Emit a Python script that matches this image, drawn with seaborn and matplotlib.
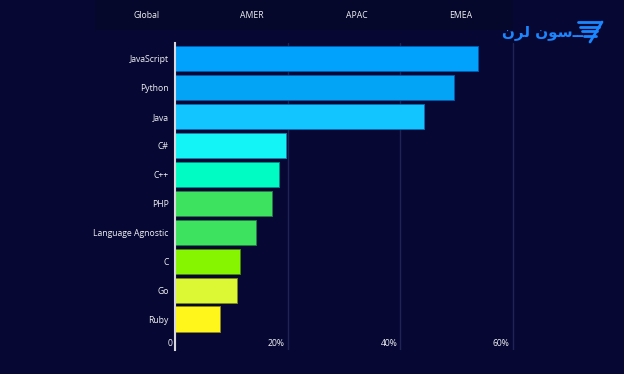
import matplotlib
matplotlib.use("Agg")
import matplotlib.pyplot as plt
import matplotlib.colors as mcolors
from matplotlib.lines import Line2D
from matplotlib.patches import Rectangle
import seaborn as sns
import pandas as pd

languages = ["JavaScript", "Python", "Java", "C#", "C++", "PHP",
             "Language Agnostic", "C", "Go", "Ruby"]
shares = [53.8, 49.6, 44.2, 19.8, 18.5, 17.2, 14.4, 11.6, 11.1, 8.0]
bar_colors = ["#00a2fb", "#03a3f6", "#12c5ff", "#12f4f6", "#00fcc2",
              "#3de35e", "#3de35e", "#86f500", "#dcf834", "#fff61c"]
x_ticks = [0, 20, 40, 60]
x_tick_labels = ["0", "20%", "40%", "60%"]
tabs = ["Global", "AMER", "APAC", "EMEA"]

BG = "#060833"
FONT = ["Open Sans", "DejaVu Sans"]

sns.set_theme(style="dark")
plt.rcParams["font.family"] = FONT

df = pd.DataFrame({"language": languages, "share": shares})

fig = plt.figure(figsize=(6.24, 3.74), dpi=100, facecolor=BG)
ax = fig.add_axes([175 / 624, 1 - 350 / 374, (524 - 175) / 624, (350 - 43) / 374])
ax.set_facecolor(BG)

sns.barplot(data=df, x="share", y="language", hue="language",
            palette=bar_colors, legend=False, width=0.87, ax=ax,
            saturation=1, zorder=3)

for patch, c in zip(ax.patches, bar_colors):
    r, g, b = mcolors.to_rgb(c)
    patch.set_edgecolor((r * 0.55, g * 0.55, b * 0.7))
    patch.set_linewidth(0.7)

ax.set_xlim(0, 62)
ax.set_ylim(10.07, -0.55)
ax.set_xlabel("")
ax.set_ylabel("")

for s in ["top", "right", "bottom"]:
    ax.spines[s].set_visible(False)
ax.spines["left"].set_color("#d8d8de")
ax.spines["left"].set_linewidth(1.5)
ax.spines["left"].set_zorder(5)

ax.set_xticks(x_ticks)
ax.set_xticklabels([])
ax.tick_params(axis="x", length=0)
ax.grid(axis="x", color="#1e2555", linewidth=1.0, zorder=0)
ax.grid(axis="y", visible=False)

ax.tick_params(axis="y", length=0, pad=4.5, labelsize=6.2, labelcolor="#f2f2f6")

for t, lab in zip(x_ticks, x_tick_labels):
    ax.annotate(lab, xy=(t, 0), xycoords=ax.get_xaxis_transform(),
                xytext=(-3, 6), textcoords="offset pixels",
                ha="right", va="center", fontsize=6.2, color="#f2f2f6")

# top tab band
fig.patches.append(Rectangle((95 / 624, 1 - 30 / 374), (513 - 95) / 624, 30 / 374,
                             transform=fig.transFigure, facecolor="#05072b",
                             edgecolor="none", zorder=0))
for i, name in enumerate(tabs):
    fig.text((147 + 104.7 * i) / 624, 1 - 15 / 374, name, ha="center", va="center",
             fontsize=6.2, color="#f2f2f6")

# logo
logo_blue = "#1b86ff"
logo_text = "\ufee5\ufeae\ufedf \ufee5\ufeee\ufeb3\u0640\u0640"
fig.text(543 / 624, 1 - 33 / 374, logo_text, ha="center", va="center",
         fontsize=11, color=logo_blue, family=["DejaVu Sans"], fontweight="bold")
for k in range(4):
    y0 = 1 - (22 + 4.5 * k) / 374
    fig.add_artist(Line2D([(578 + 2 * k) / 624, (600 - 1.5 * k) / 624], [y0, y0],
                          transform=fig.transFigure, color=logo_blue, lw=2))
fig.add_artist(Line2D([602 / 624, 590 / 624], [1 - 22 / 374, 1 - 42 / 374],
                      transform=fig.transFigure, color=logo_blue, lw=2))

fig.savefig("out.png", dpi=100, facecolor=BG)
